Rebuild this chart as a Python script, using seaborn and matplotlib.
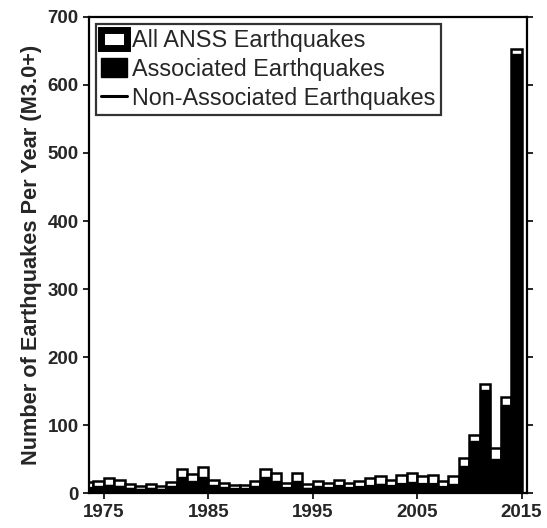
import numpy as np
import pandas as pd
import matplotlib
matplotlib.use("Agg")
import matplotlib.pyplot as plt
import seaborn as sns
from matplotlib.patches import Patch
from matplotlib.lines import Line2D

years = list(range(1973, 2015))
all_anss = [16, 18, 22, 20, 14, 10, 14, 10, 16, 36, 28, 38, 20, 15, 12, 12, 18, 35,
            30, 15, 30, 14, 18, 15, 20, 15, 18, 22, 25, 20, 27, 30, 25, 27, 18, 25,
            52, 86, 160, 66, 142, 653]
associated = [8, 10, 12, 11, 8, 6, 8, 6, 10, 24, 18, 24, 12, 9, 7, 7, 10, 24,
              18, 8, 18, 8, 10, 8, 10, 7, 9, 11, 13, 10, 14, 16, 12, 14, 9, 14,
              40, 76, 152, 50, 130, 645]
non_associated = [a - b for a, b in zip(all_anss, associated)]
xticks = [1975, 1985, 1995, 2005, 2015]
yticks = [0, 100, 200, 300, 400, 500, 600, 700]

df = pd.DataFrame({"year": years, "all": all_anss, "assoc": associated,
                   "nonassoc": non_associated})
edges = list(range(1973, 2016))

sns.set_style("white")
plt.rcParams["font.family"] = ["Liberation Sans", "DejaVu Sans"]

fig = plt.figure(figsize=(5.47, 5.28), dpi=100)
ax = fig.add_axes([0.163, 0.066, 0.800, 0.902])

sns.histplot(data=df, x="year", weights="all", bins=edges, element="bars",
             fill=True, color="white", edgecolor="black", linewidth=1.8,
             alpha=1, ax=ax)
sns.histplot(data=df, x="year", weights="assoc", bins=edges, element="bars",
             fill=True, color="black", edgecolor="black", linewidth=1.0,
             alpha=1, ax=ax, shrink=0.88)
sns.histplot(data=df, x="year", weights="nonassoc", bins=edges, element="step",
             fill=False, color="black", linewidth=1.6, ax=ax)

ax.set_xlim(1973.6, 2015.5)
ax.set_ylim(0, 700)
ax.set_xticks(xticks)
ax.set_yticks(yticks)
ax.set_xlabel("")
ax.set_ylabel("Number of Earthquakes Per Year (M3.0+)", fontsize=15.7,
              fontweight="bold", labelpad=4)
for lab in ax.get_xticklabels() + ax.get_yticklabels():
    lab.set_fontweight("bold")
ax.tick_params(axis="both", labelsize=13.5, direction="out", length=4,
               width=1.2, color="black", bottom=True, left=True)
ax.tick_params(axis="y", right=True, which="major")
for s in ax.spines.values():
    s.set_visible(True)
    s.set_color("black")
    s.set_linewidth(1.6)

handles = [Patch(facecolor="white", edgecolor="black", linewidth=5),
           Patch(facecolor="black", edgecolor="black"),
           Line2D([0], [0], color="black", linewidth=2.2)]
labels = ["All ANSS Earthquakes", "Associated Earthquakes",
          "Non-Associated Earthquakes"]
leg = ax.legend(handles, labels, loc="upper left", fontsize=16.8,
                frameon=True, fancybox=False, edgecolor="black",
                handlelength=1.1, handleheight=0.85, handletextpad=0.22,
                borderpad=0.22, labelspacing=0.25, borderaxespad=0.3)
leg.get_frame().set_linewidth(1.6)

fig.savefig("out.png", dpi=100)
